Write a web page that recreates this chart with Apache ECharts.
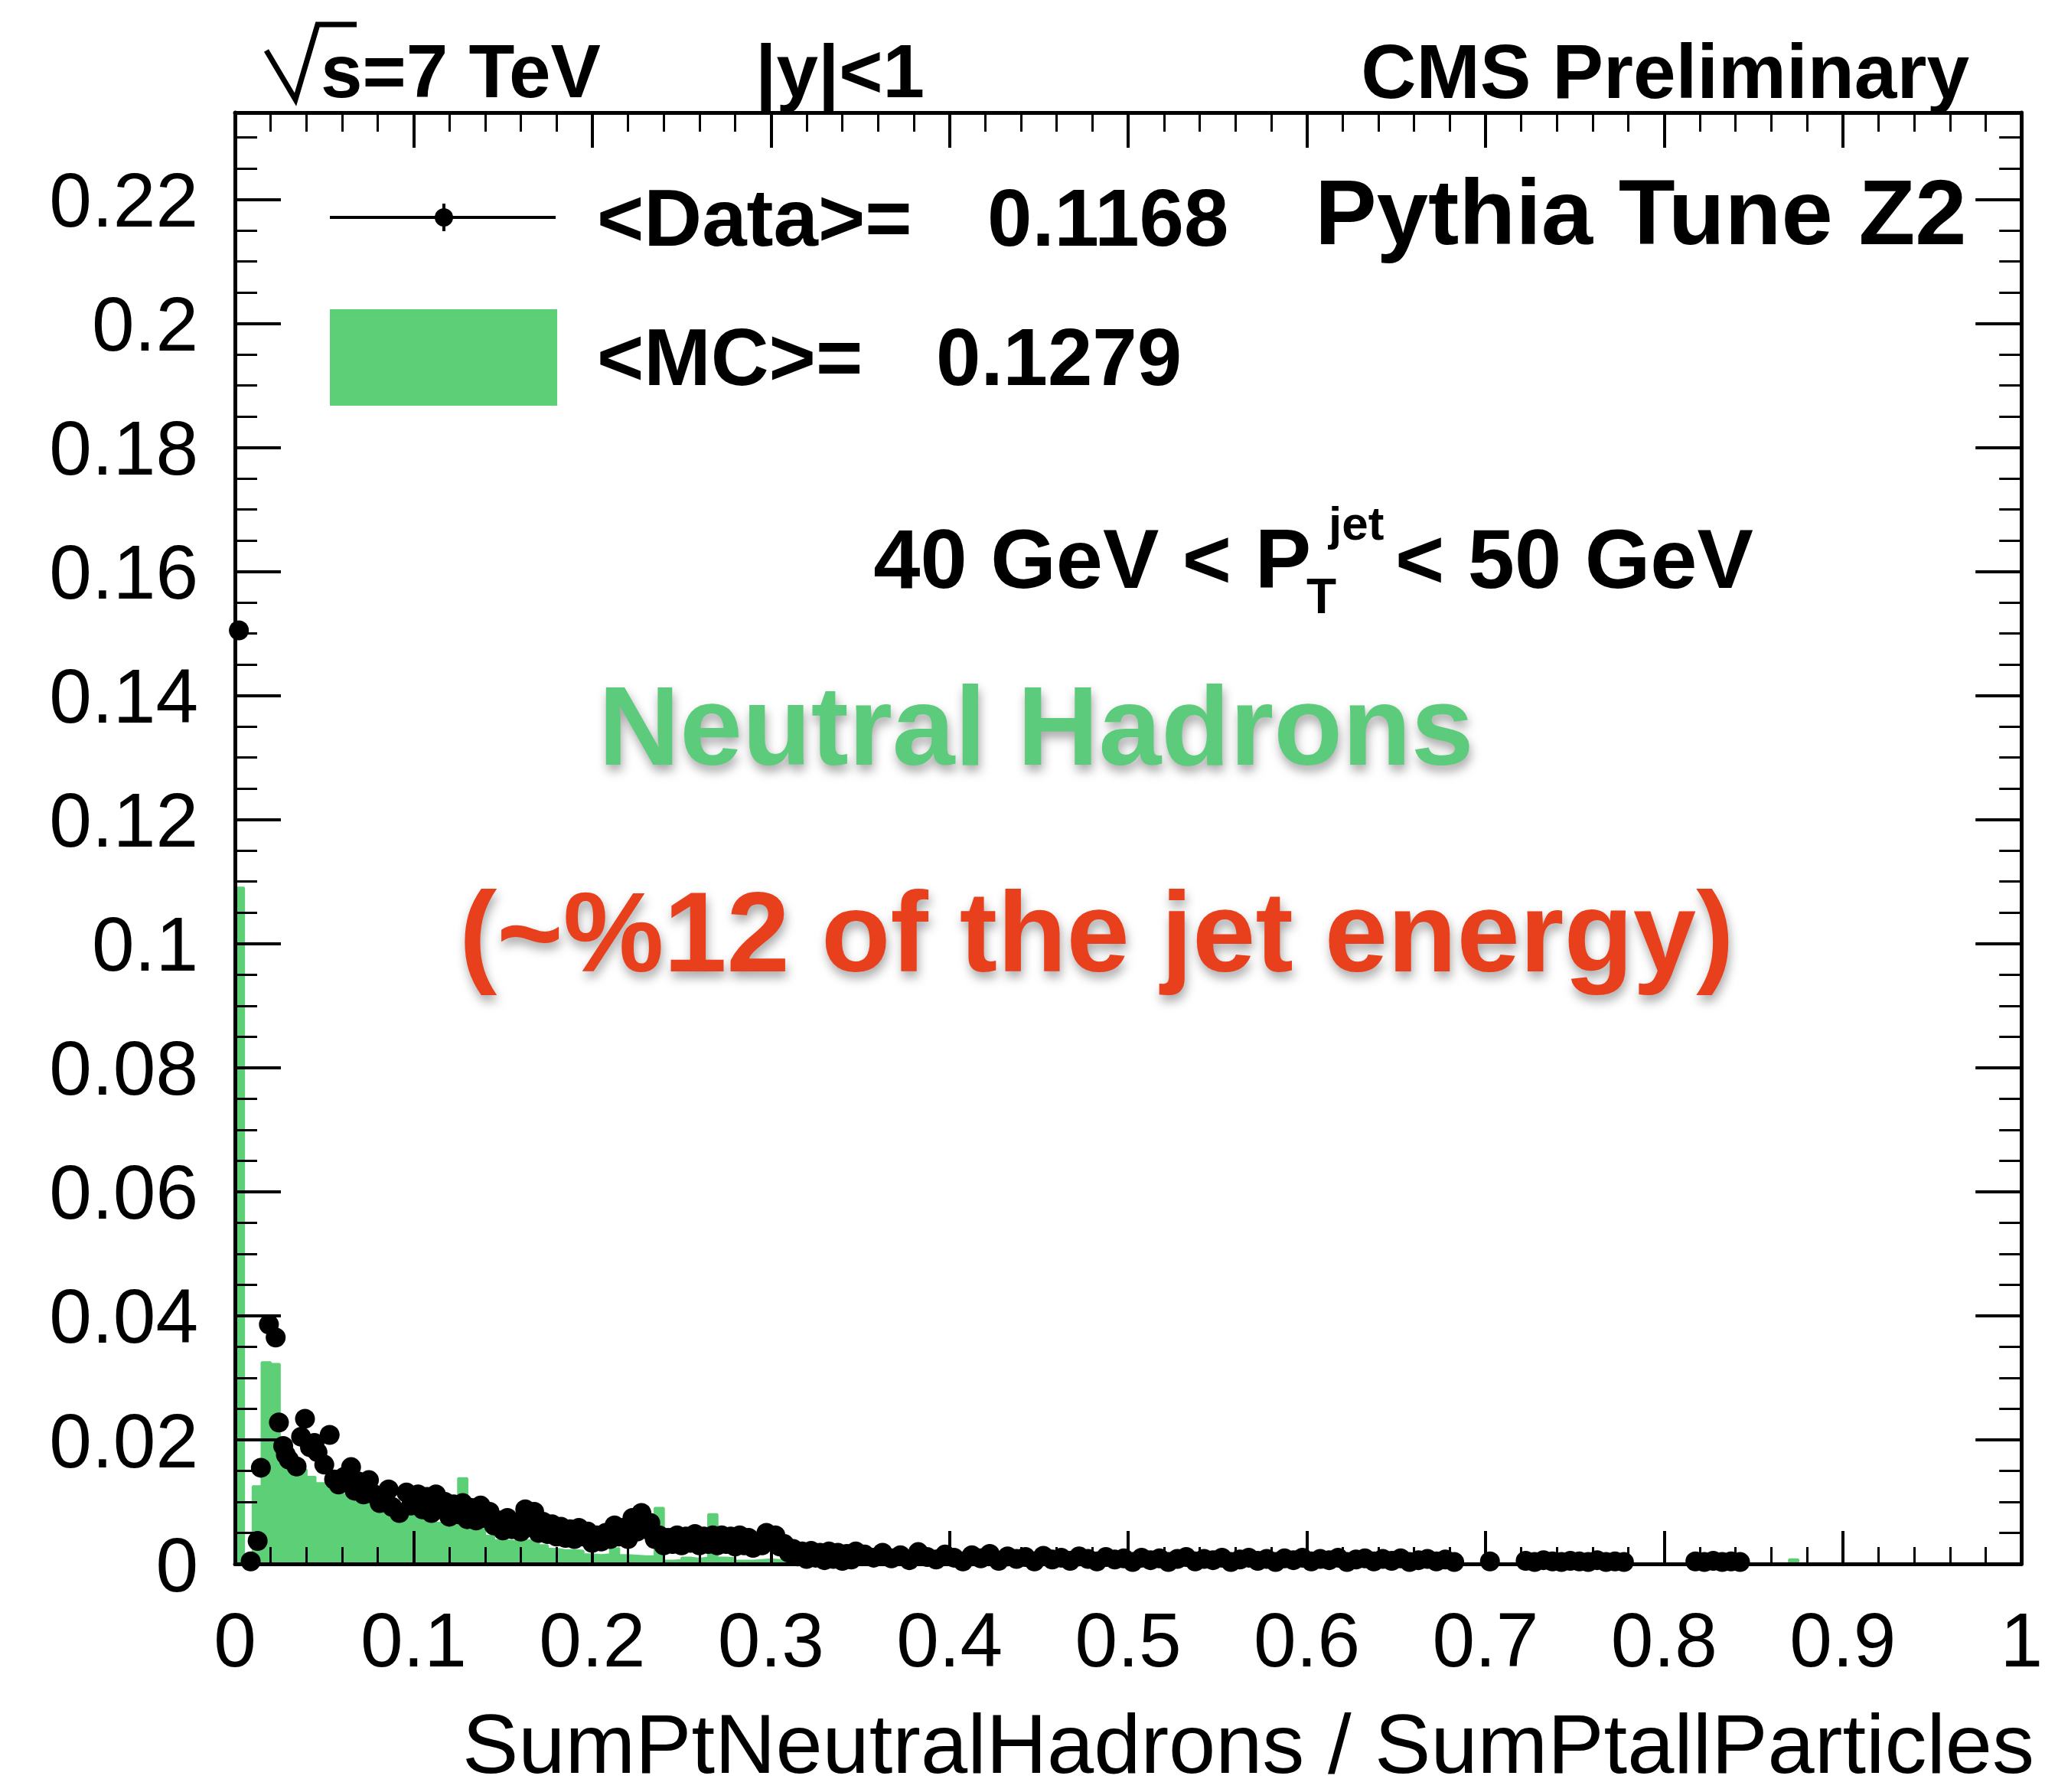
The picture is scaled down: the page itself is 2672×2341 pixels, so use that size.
<!DOCTYPE html>
<html>
<head>
<meta charset="utf-8">
<script src="https://cdn.jsdelivr.net/npm/echarts@6/dist/echarts.min.js"></script>
<style>
html,body{margin:0;padding:0;background:#ffffff;}
#chart{width:2672px;height:2341px;}
</style>
</head>
<body>
<div id="chart"></div>
<script>
// ---------------- data ----------------
const binWidth = 0.005;           // MC histogram bin width, 200 bins over [0,1]
const mcValues = [
  0.109, 0.0008, 0.0125, 0.0325, 0.0322, 0.0172, 0.0165, 0.0152, 0.0140, 0.0130,
  0.0125, 0.0118, 0.0112, 0.0108, 0.0100, 0.0095, 0.0087, 0.0083, 0.0082, 0.0080,
  0.0080, 0.0075, 0.0066, 0.0064, 0.0064, 0.0138, 0.0062, 0.0058, 0.0045, 0.0038,
  0.0037, 0.0036, 0.0038, 0.0036, 0.0030, 0.0024, 0.0022, 0.0022, 0.0021, 0.0015,
  0.0014, 0.0015, 0.0025, 0.0014, 0.0013, 0.0012, 0.0012, 0.0090, 0.0005, 0.0006,
  0.0010, 0.0008, 0.0010, 0.0080, 0.0010, 0.0009, 0.0005, 0.0005, 0.0006, 0.0007,
  0.0006, 0.0008, 0.0005, 0.0006, 0.0007, 0.0005, 0.0006, 0.0004, 0.0005, 0.0006,
  0.0004, 0.0005, 0.0004, 0.0003, 0.0005, 0.0004, 0.0003, 0.0004, 0.0003, 0.0004,
  0.0003, 0.0004, 0.0003, 0.0002, 0.0003, 0.0004, 0.0002, 0.0003, 0.0002, 0.0003,
  0.0002, 0.0003, 0.0002, 0.0003, 0.0025, 0.0002, 0.0003, 0.0002, 0.0001, 0.0002,
  0.0002, 0.0001, 0.0002, 0.0002, 0.0001, 0.0002, 0.0001, 0.0001, 0.0002, 0.0001,
  0.0001, 0.0002, 0.0001, 0.0001, 0.0001, 0.0002, 0.0001, 0.0001, 0.0001, 0.0001,
  0.0001, 0.0001, 0, 0.0001, 0.0001, 0, 0.0001, 0.0001, 0, 0.0001,
  0.0001, 0, 0.0001, 0, 0.0001, 0, 0, 0.0001, 0, 0.0001,
  0, 0, 0.0001, 0, 0, 0, 0, 0, 0, 0,
  0, 0, 0, 0, 0, 0, 0, 0, 0, 0,
  0, 0, 0, 0, 0, 0, 0, 0, 0, 0,
  0, 0, 0, 0, 0.0007, 0, 0, 0, 0, 0,
  0, 0, 0, 0, 0, 0, 0, 0, 0, 0,
  0, 0, 0, 0, 0, 0, 0, 0, 0, 0
];

// Data points [x, y]
const dataPoints = [
  [0.0022, 0.1505], [0.0088, 0.0004], [0.0127, 0.0037], [0.0145, 0.0155],
  [0.0190, 0.0386], [0.0228, 0.0365], [0.0246, 0.0228], [0.0270, 0.0190],
  [0.0285, 0.0176], [0.0302, 0.0168], [0.0345, 0.0157], [0.0370, 0.0205],
  [0.0392, 0.0234], [0.0420, 0.0188], [0.0445, 0.0195], [0.0462, 0.0180],
  [0.0500, 0.0160], [0.0530, 0.0208], [0.0555, 0.0136], [0.0580, 0.0128],
  [0.0610, 0.0140], [0.0650, 0.0156], [0.0670, 0.0118], [0.0690, 0.0133],
  [0.0720, 0.0112], [0.0750, 0.0135], [0.0780, 0.0112], [0.0810, 0.0098],
  [0.0830, 0.0105], [0.0860, 0.0120], [0.0880, 0.0092], [0.0920, 0.0082],
  [0.0960, 0.0115], [0.0985, 0.0094], [0.1000, 0.0095],
  [0.1025, 0.0112], [0.1050, 0.0088], [0.1075, 0.0108], [0.1100, 0.0082],
  [0.1125, 0.0112], [0.1150, 0.0090], [0.1175, 0.0100], [0.1200, 0.0076],
  [0.1225, 0.0096], [0.1250, 0.0080], [0.1275, 0.0098], [0.1300, 0.0072],
  [0.1325, 0.0090], [0.1350, 0.0070], [0.1375, 0.0094], [0.1400, 0.0074],
  [0.1425, 0.0084], [0.1450, 0.0062], [0.1475, 0.0070], [0.1500, 0.0054],
  [0.1525, 0.0074], [0.1550, 0.0056], [0.1575, 0.0066], [0.1600, 0.0052],
  [0.1625, 0.0088], [0.1650, 0.0060], [0.1675, 0.0084], [0.1700, 0.0050],
  [0.1725, 0.0068], [0.1750, 0.0048], [0.1775, 0.0064], [0.1800, 0.0044],
  [0.1825, 0.0060], [0.1850, 0.0042], [0.1875, 0.0056], [0.1900, 0.0040],
  [0.1925, 0.0058], [0.1950, 0.0044], [0.1975, 0.0052], [0.2000, 0.0034],
  [0.2025, 0.0046], [0.2050, 0.0036], [0.2075, 0.0050], [0.2100, 0.0040],
  [0.2125, 0.0062], [0.2150, 0.0044], [0.2175, 0.0058], [0.2200, 0.0040],
  [0.2225, 0.0074], [0.2250, 0.0052], [0.2275, 0.0082], [0.2300, 0.0056],
  [0.2325, 0.0066], [0.2350, 0.0040], [0.2375, 0.0046], [0.2400, 0.0030],
  [0.2425, 0.0042], [0.2450, 0.0032], [0.2475, 0.0046], [0.2500, 0.0030],
  [0.2525, 0.0044], [0.2550, 0.0034], [0.2575, 0.0048], [0.2600, 0.0030],
  [0.2625, 0.0044], [0.2650, 0.0032], [0.2675, 0.0046], [0.2700, 0.0030],
  [0.2725, 0.0046], [0.2750, 0.0032], [0.2775, 0.0044], [0.2800, 0.0028],
  [0.2825, 0.0046], [0.2850, 0.0030], [0.2875, 0.0042], [0.2900, 0.0026],
  [0.2925, 0.0036], [0.2950, 0.0030], [0.2975, 0.0050], [0.3000, 0.0038],
  [0.3025, 0.0046], [0.3050, 0.0028], [0.3075, 0.0032], [0.3100, 0.0018],
  [0.3125, 0.0024], [0.3150, 0.0012], [0.3175, 0.0020], [0.3200, 0.0008],
  [0.3225, 0.0021], [0.3250, 0.0010], [0.3275, 0.0018], [0.3300, 0.0006],
  [0.3325, 0.0020], [0.3350, 0.0008], [0.3375, 0.0018], [0.3400, 0.0005],
  [0.3425, 0.0016], [0.3450, 0.0007], [0.3475, 0.0020],
  [0.3525, 0.0015], [0.3575, 0.0010], [0.3625, 0.0018],
  [0.3675, 0.0009], [0.3725, 0.0014], [0.3775, 0.0006], [0.3825, 0.0019],
  [0.3875, 0.0011], [0.3925, 0.0007], [0.3975, 0.0015], [0.4025, 0.0010],
  [0.4075, 0.0004], [0.4125, 0.0014], [0.4175, 0.0009], [0.4225, 0.0016],
  [0.4275, 0.0005], [0.4325, 0.0012], [0.4375, 0.0008], [0.4425, 0.0011],
  [0.4475, 0.0004], [0.4525, 0.0013], [0.4575, 0.0007], [0.4625, 0.0010],
  [0.4675, 0.0005], [0.4725, 0.0012], [0.4775, 0.0008], [0.4825, 0.0004],
  [0.4875, 0.0011], [0.4925, 0.0007], [0.4975, 0.0009], [0.5025, 0.0003],
  [0.5075, 0.0010], [0.5125, 0.0006], [0.5175, 0.0009], [0.5225, 0.0003],
  [0.5275, 0.0008], [0.5325, 0.0011], [0.5375, 0.0004], [0.5425, 0.0008],
  [0.5475, 0.0006], [0.5525, 0.0010], [0.5575, 0.0003], [0.5625, 0.0007],
  [0.5675, 0.0010], [0.5725, 0.0005], [0.5775, 0.0008], [0.5825, 0.0003],
  [0.5875, 0.0009], [0.5925, 0.0006], [0.5975, 0.0010], [0.6025, 0.0004],
  [0.6075, 0.0008], [0.6125, 0.0006], [0.6175, 0.0010], [0.6225, 0.0003],
  [0.6275, 0.0007], [0.6325, 0.0009], [0.6375, 0.0004], [0.6425, 0.0008],
  [0.6475, 0.0005], [0.6525, 0.0009], [0.6575, 0.0003], [0.6625, 0.0006],
  [0.6675, 0.0008], [0.6725, 0.0004], [0.6775, 0.0007], [0.6825, 0.0003],
  [0.7025, 0.0004],
  [0.7225, 0.0005], [0.7275, 0.0003], [0.7325, 0.0006], [0.7375, 0.0004],
  [0.7425, 0.0003], [0.7475, 0.0005], [0.7525, 0.0004], [0.7575, 0.0003],
  [0.7625, 0.0006], [0.7675, 0.0003], [0.7725, 0.0004], [0.7775, 0.0003],
  [0.8175, 0.0004], [0.8225, 0.0003], [0.8275, 0.0005], [0.8325, 0.0003],
  [0.8375, 0.0004], [0.8425, 0.0003]
];

const xTickLabels = ['0', '0.1', '0.2', '0.3', '0.4', '0.5', '0.6', '0.7', '0.8', '0.9', '1'];
const yTickLabels = ['0', '0.02', '0.04', '0.06', '0.08', '0.1', '0.12', '0.14', '0.16', '0.18', '0.2', '0.22'];

const legendLabels = ['<Data>=', '<MC>='];
const legendMeans = ['0.1168', '0.1279'];
const xTitle = 'SumPtNeutralHadrons / SumPtallParticles';

// ---------------- styling ----------------
const GREEN = '#5ccf77';
const FONT = '"Liberation Sans", Arial, Helvetica, sans-serif';

// MC histogram as a step outline built from bin left edges
const mcStep = mcValues.map((v, i) => [i * binWidth, v]);
mcStep.push([1, mcValues[mcValues.length - 1]]);

function yLabel(v) {
  const idx = Math.round(v / 0.02);
  if (Math.abs(v - idx * 0.02) > 1e-6) return '';
  return yTickLabels[idx] !== undefined ? yTickLabels[idx] : '';
}
function xLabel(v) {
  const idx = Math.round(v / 0.1);
  if (Math.abs(v - idx * 0.1) > 1e-6) return '';
  return xTickLabels[idx] !== undefined ? xTickLabels[idx] : '';
}

function txt(text, x, y, size, weight, align, color, extra) {
  const style = Object.assign({
    text: text,
    font: weight + ' ' + size + 'px ' + FONT,
    fill: color || '#000',
    align: align, textAlign: align,
    verticalAlign: 'middle', textVerticalAlign: 'middle'
  }, extra || {});
  return { type: 'text', x: x, y: y, z: 100, style: style };
}

const axisLineStyle = { color: '#000', width: 5 };

const option = {
  animation: false,
  backgroundColor: '#ffffff',
  grid: { left: 307, right: 9, top: 147, bottom: 298, containLabel: false },
  xAxis: [
    {
      type: 'value', min: 0, max: 1, interval: 0.1, position: 'bottom', z: 3,
      axisLine: { show: true, onZero: false, lineStyle: axisLineStyle },
      axisTick: { show: true, inside: true, length: 43, lineStyle: { color: '#000', width: 4 } },
      minorTick: { show: true, splitNumber: 5, length: 22, lineStyle: { color: '#000', width: 3 } },
      axisLabel: { show: true, margin: 56, fontSize: 100, fontFamily: FONT, color: '#000', formatter: xLabel },
      splitLine: { show: false }, minorSplitLine: { show: false }
    },
    {
      type: 'value', min: 0, max: 1, interval: 0.1, position: 'top', z: 3,
      axisLine: { show: true, onZero: false, lineStyle: axisLineStyle },
      axisTick: { show: true, inside: true, length: 46, lineStyle: { color: '#000', width: 4 } },
      minorTick: { show: true, splitNumber: 5, length: 25, lineStyle: { color: '#000', width: 3 } },
      axisLabel: { show: false },
      splitLine: { show: false }
    }
  ],
  yAxis: [
    {
      type: 'value', min: 0, max: 0.234, interval: 0.02, position: 'left', z: 3,
      axisLine: { show: true, onZero: false, lineStyle: axisLineStyle },
      axisTick: { show: true, inside: true, length: 60, lineStyle: { color: '#000', width: 4 } },
      minorTick: { show: true, splitNumber: 4, length: 29, lineStyle: { color: '#000', width: 3 } },
      axisLabel: { show: true, margin: 48, fontSize: 100, fontFamily: FONT, color: '#000', formatter: yLabel, showMaxLabel: false,
                   verticalAlign: 'top', lineHeight: 16 },
      splitLine: { show: false }, minorSplitLine: { show: false }
    },
    {
      type: 'value', min: 0, max: 0.234, interval: 0.02, position: 'right', z: 3,
      axisLine: { show: true, onZero: false, lineStyle: axisLineStyle },
      axisTick: { show: true, inside: true, length: 60, lineStyle: { color: '#000', width: 4 } },
      minorTick: { show: true, splitNumber: 4, length: 29, lineStyle: { color: '#000', width: 3 } },
      axisLabel: { show: false },
      splitLine: { show: false }
    }
  ],
  series: [
    {
      name: 'MC', type: 'line', step: 'end', data: mcStep,
      xAxisIndex: 0, yAxisIndex: 0, z: 2,
      symbol: 'none', showSymbol: false,
      lineStyle: { color: GREEN, width: 3 },
      areaStyle: { color: GREEN, opacity: 1 },
      emphasis: { disabled: true }
    },
    {
      name: 'Data', type: 'scatter', data: dataPoints,
      xAxisIndex: 0, yAxisIndex: 0, z: 4,
      symbol: 'circle', symbolSize: 26,
      itemStyle: { color: '#000', opacity: 1 },
      emphasis: { disabled: true }
    }
  ],
  graphic: [
    // top labels
    { type: 'polyline', z: 100, shape: { points: [[348, 66], [386, 130], [415, 32], [466, 32]] },
      style: { stroke: '#000', lineWidth: 7, fill: null } },
    txt('s=7 TeV', 419, 100, 98, 'bold', 'left'),
    txt('|y|<1', 987, 100, 98, 'bold', 'left'),
    txt('CMS Preliminary', 2573, 100, 100, 'bold', 'right'),
    // legend
    { type: 'line', z: 100, shape: { x1: 431, y1: 284, x2: 726, y2: 284 }, style: { stroke: '#000', lineWidth: 4 } },
    { type: 'line', z: 100, shape: { x1: 580, y1: 266, x2: 580, y2: 302 }, style: { stroke: '#000', lineWidth: 4 } },
    { type: 'circle', z: 100, shape: { cx: 580, cy: 284, r: 12 }, style: { fill: '#000' } },
    { type: 'rect', z: 100, shape: { x: 431, y: 404, width: 297, height: 126 }, style: { fill: GREEN } },
    txt(legendLabels[0], 780, 292, 105, 'bold', 'left'),
    txt(legendMeans[0], 1290, 292, 105, 'bold', 'left'),
    txt(legendLabels[1], 780, 474, 105, 'bold', 'left'),
    txt(legendMeans[1], 1223, 474, 105, 'bold', 'left'),
    txt('Pythia Tune Z2', 1718, 286, 121, 'bold', 'left'),
    // pT range
    txt('40 GeV < P', 1713, 738, 110, 'bold', 'right'),
    txt('jet', 1736, 688, 62, 'bold', 'left'),
    txt('T', 1707, 783, 64, 'bold', 'left'),
    txt('< 50 GeV', 1823, 738, 110, 'bold', 'left'),
    // annotations
    txt('Neutral Hadrons', 782, 958, 147, 'bold', 'left', '#5ccb7b',
        { textShadowColor: 'rgba(0,0,0,0.35)', textShadowBlur: 14, textShadowOffsetX: 2, textShadowOffsetY: 8 }),
    txt('(~%12 of the jet energy)', 600, 1228, 148, 'bold', 'left', '#e8401c',
        { textShadowColor: 'rgba(0,0,0,0.35)', textShadowBlur: 14, textShadowOffsetX: 2, textShadowOffsetY: 8 }),
    // x-axis title
    txt(xTitle, 2658, 2286, 110, 'normal', 'right')
  ]
};

const chart = echarts.init(document.getElementById('chart'), null, { renderer: 'canvas', width: 2672, height: 2341 });
chart.setOption(option);
</script>
</body>
</html>
